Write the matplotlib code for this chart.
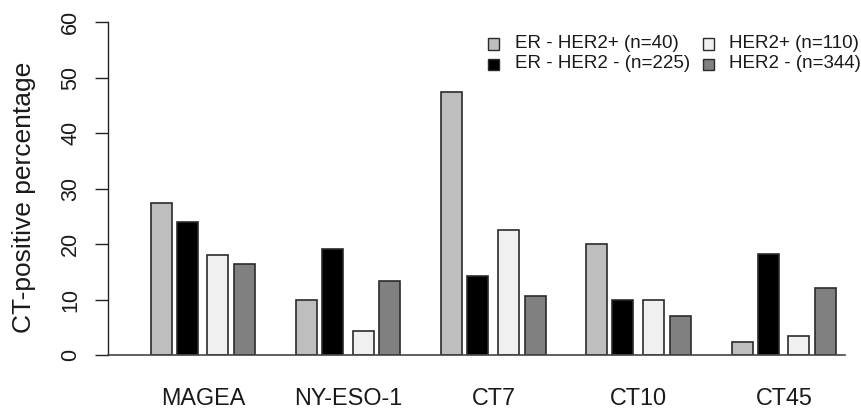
import matplotlib
matplotlib.use("Agg")
import matplotlib.pyplot as plt
from matplotlib.patches import Rectangle

plt.rcParams['font.family'] = ['Liberation Sans', 'DejaVu Sans']

categories = ["MAGEA", "NY-ESO-1", "CT7", "CT10", "CT45"]
series_names = ["ER - HER2+ (n=40)", "ER - HER2 - (n=225)", "HER2+ (n=110)", "HER2 - (n=344)"]
er_her2_pos = [27.5, 9.9, 47.5, 20.0, 2.3]
er_her2_neg = [23.9, 19.1, 14.2, 10.0, 18.2]
her2_pos = [18.0, 4.4, 22.5, 10.0, 3.4]
her2_neg = [16.5, 13.4, 10.7, 7.0, 12.0]
series = [er_her2_pos, er_her2_neg, her2_pos, her2_neg]
colors = ["#bebebe", "#000000", "#f0f0f0", "#808080"]
yticks = [0, 10, 20, 30, 40, 50, 60]

W, H = 862, 413
fig = plt.figure(figsize=(W / 100, H / 100), dpi=100)
left_px, right_px, top_px, bot_px = 108, 845, 22.3, 355
ax = fig.add_axes([left_px / W, 1 - bot_px / H, (right_px - left_px) / W, (bot_px - top_px) / H])

ax.set_xlim(left_px, right_px)
ax.set_ylim(0, 60)

group_start = 202.9
group_step = 145.25
offsets = [-41.65, -15.65, 14.95, 41.65]
bar_w = 21

for s, (vals, col) in enumerate(zip(series, colors)):
    xs = [group_start + i * group_step + offsets[s] for i in range(len(categories))]
    ax.bar(xs, vals, width=bar_w, color=col, edgecolor="#2b2b2b", linewidth=1.2, zorder=2)

centers = [group_start + i * group_step for i in range(len(categories))]
ax.set_xticks(centers)
ax.set_xticklabels(categories, fontsize=16.8, color="#1a1a1a")
ax.tick_params(axis='x', length=0, pad=23)

ax.set_yticks(yticks)
ax.set_yticklabels([str(v) for v in yticks], rotation=90, va='center', fontsize=15.5, color="#1a1a1a")
ax.tick_params(axis='y', length=9.4, width=1.0, pad=10, color="#222222")

for sp in ["top", "right"]:
    ax.spines[sp].set_visible(False)
ax.spines["left"].set_color("#222222")
ax.spines["bottom"].set_color("#444444")
ax.spines["left"].set_linewidth(1.0)
ax.spines["bottom"].set_linewidth(1.2)

fig.text(24 / W, 1 - 197.5 / H, "CT-positive percentage", rotation=90,
         ha='center', va='center', fontsize=19, color="#1a1a1a")

# legend (two columns, no frame)
leg_pos = [(494, 44), (494, 64), (708, 44), (708, 64)]
msz = 11
for name, col, (mx, my) in zip(series_names, colors, leg_pos):
    fig.patches.append(Rectangle(((mx - msz / 2) / W, 1 - (my + msz / 2) / H), msz / W, msz / H,
                                 transform=fig.transFigure, facecolor=col,
                                 edgecolor="#2b2b2b", linewidth=1.0))
    fig.text((mx + 21) / W, 1 - my / H, name, ha='left', va='center', fontsize=13.5, color="#1a1a1a")

fig.savefig("out.png", dpi=100)
